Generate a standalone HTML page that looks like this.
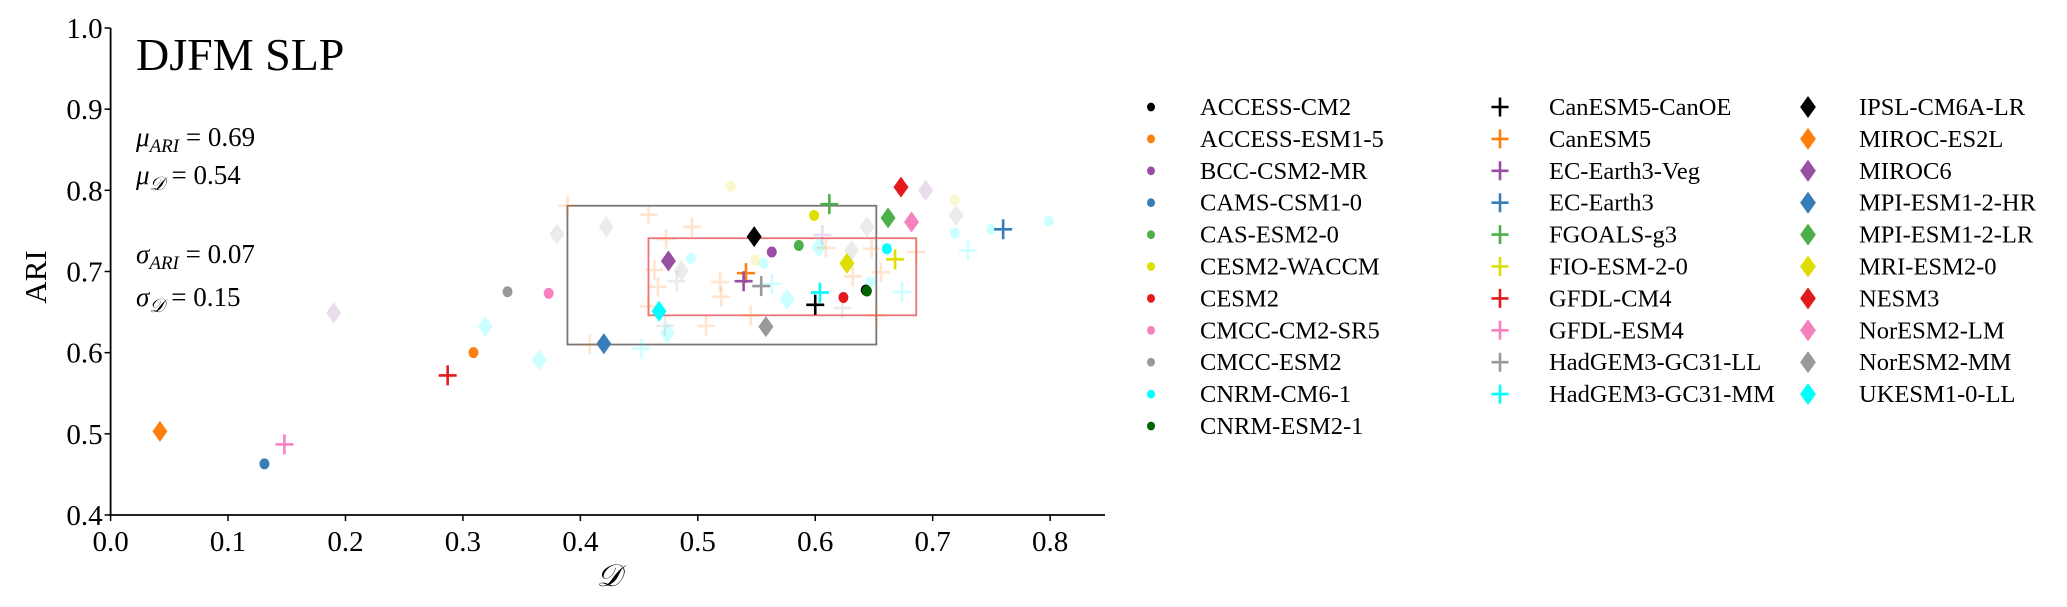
<!DOCTYPE html>
<html><head><meta charset="utf-8"><style>
html,body{margin:0;padding:0;background:#fff;}
svg{display:block;font-family:"Liberation Serif","DejaVu Serif",serif;}
</style></head><body>
<svg id="chart" width="2067" height="607" viewBox="0 0 2067 607" xmlns="http://www.w3.org/2000/svg">
<g id="plot"></g>
<g id="axes"></g>
<g id="legend"></g>
<text x="136" y="70" font-size="46">DJFM SLP</text>
<text x="136" y="146" font-size="27" font-style="italic">μ<tspan font-size="19" dy="6">ARI</tspan><tspan font-style="normal" dy="-6"> = 0.69</tspan></text>
<text x="136" y="184" font-size="27" font-style="italic">μ<tspan font-size="19" dy="6">𝒟</tspan><tspan font-style="normal" dy="-6"> = 0.54</tspan></text>
<text x="136" y="263" font-size="27" font-style="italic">σ<tspan font-size="19" dy="6">ARI</tspan><tspan font-style="normal" dy="-6"> = 0.07</tspan></text>
<text x="136" y="306" font-size="27" font-style="italic">σ<tspan font-size="19" dy="6">𝒟</tspan><tspan font-style="normal" dy="-6"> = 0.15</tspan></text>
<text x="0" y="0" font-size="31" text-anchor="middle" transform="translate(46,277) rotate(-90)">ARI</text>
<text x="609" y="586" font-size="31" font-style="italic" text-anchor="middle">𝒟</text>
</svg>
<script>
const NS='http://www.w3.org/2000/svg';
const xTicks=[0.0,0.1,0.2,0.3,0.4,0.5,0.6,0.7,0.8];
const yTicks=[0.4,0.5,0.6,0.7,0.8,0.9,1.0];
const models=['ACCESS-CM2','ACCESS-ESM1-5','BCC-CSM2-MR','CAMS-CSM1-0','CAS-ESM2-0','CESM2-WACCM','CESM2','CMCC-CM2-SR5','CMCC-ESM2','CNRM-CM6-1','CNRM-ESM2-1',
'CanESM5-CanOE','CanESM5','EC-Earth3-Veg','EC-Earth3','FGOALS-g3','FIO-ESM-2-0','GFDL-CM4','GFDL-ESM4','HadGEM3-GC31-LL','HadGEM3-GC31-MM',
'IPSL-CM6A-LR','MIROC-ES2L','MIROC6','MPI-ESM1-2-HR','MPI-ESM1-2-LR','MRI-ESM2-0','NESM3','NorESM2-LM','NorESM2-MM','UKESM1-0-LL'];
const markers=['o','o','o','o','o','o','o','o','o','o','o','+','+','+','+','+','+','+','+','+','+','d','d','d','d','d','d','d','d','d','d'];
const colors=['#000000','#ff7f0e','#984ea3','#377eb8','#4daf4a','#dede00','#e41a1c','#f781bf','#999999','#00ffff','#006400',
'#000000','#ff7f0e','#984ea3','#377eb8','#4daf4a','#dede00','#e41a1c','#f781bf','#999999','#00ffff',
'#000000','#ff7f0e','#984ea3','#377eb8','#4daf4a','#dede00','#e41a1c','#f781bf','#999999','#00ffff'];
const dVals=[0.643,0.309,0.563,0.131,0.586,0.599,0.624,0.373,0.338,0.661,0.644,
0.600,0.541,0.539,0.760,0.612,0.668,0.287,0.148,0.554,0.604,
0.548,0.042,0.475,0.420,0.662,0.627,0.673,0.682,0.558,0.467];
const ariVals=[0.677,0.600,0.724,0.463,0.732,0.769,0.668,0.673,0.675,0.728,0.676,
0.659,0.698,0.688,0.752,0.783,0.715,0.572,0.487,0.682,0.674,
0.743,0.503,0.713,0.611,0.766,0.710,0.804,0.761,0.632,0.651];
const fadeModel=[23,23,29,29,29,29,29,29,30,30,30,30,30,5,5,5,9,9,9,9,9,9,
12,12,12,12,12,12,12,12,12,12,12,12,12,12,12,12,12,12,19,19,19,13,20,20,20,20];
const fadeD=[0.694,0.190,0.380,0.422,0.486,0.644,0.631,0.720,0.319,0.365,0.474,0.576,0.603,0.528,0.719,0.549,0.494,0.719,0.750,0.799,0.647,0.556,
0.389,0.458,0.473,0.495,0.463,0.466,0.519,0.520,0.507,0.545,0.408,0.458,0.609,0.648,0.656,0.632,0.652,0.686,0.482,0.472,0.623,0.606,0.452,0.563,0.674,0.730];
const fadeA=[0.800,0.649,0.746,0.755,0.701,0.755,0.726,0.769,0.632,0.591,0.624,0.666,0.730,0.805,0.788,0.714,0.716,0.747,0.752,0.762,0.687,0.710,
0.781,0.770,0.740,0.755,0.702,0.681,0.687,0.669,0.633,0.646,0.610,0.657,0.729,0.728,0.699,0.694,0.646,0.724,0.688,0.633,0.655,0.745,0.605,0.685,0.675,0.726];
const boxNames=['all-models-box','selected-box'];
const boxD0=[0.389,0.458], boxD1=[0.652,0.686], boxA0=[0.610,0.646], boxA1=[0.781,0.741];
const boxColors=['#555555','#e8505a'];

const X0=110.6, XS=1174.4, Y0=515, YS=811.7;
const sx=v=>X0+v*XS, sy=v=>Y0-(v-0.4)*YS;
const plot=document.getElementById('plot'), axes=document.getElementById('axes'), leg=document.getElementById('legend');
function mk(tag,attrs,parent){const e=document.createElementNS(NS,tag);for(const k in attrs)e.setAttribute(k,attrs[k]);parent.appendChild(e);return e;}
function marker(type,cx,cy,color,parent,op,scale){
  const s=scale||1;
  let e;
  if(type==='o'){e=mk('ellipse',{cx:cx,cy:cy,rx:5*s,ry:5.5*s,fill:color,'fill-opacity':op},parent);}
  else if(type==='d'){e=mk('path',{d:`M${cx} ${cy-10.5*s}L${cx+7.5*s} ${cy}L${cx} ${cy+10.5*s}L${cx-7.5*s} ${cy}Z`,fill:color,'fill-opacity':op},parent);}
  else {e=mk('path',{d:`M${cx-9*s} ${cy}H${cx+9*s}M${cx} ${cy-10*s}V${cy+10*s}`,stroke:color,'stroke-width':2.6,'stroke-opacity':op,fill:'none'},parent);}
  return e;
}
for(let i=0;i<boxNames.length;i++){
  const r=mk('rect',{x:sx(boxD0[i]),y:sy(boxA1[i]),width:sx(boxD1[i])-sx(boxD0[i]),height:sy(boxA0[i])-sy(boxA1[i]),fill:'none',stroke:boxColors[i],'stroke-width':1.8,'stroke-opacity':0.8},plot);
  
  
}
for(let i=0;i<fadeD.length;i++){
  const m=fadeModel[i];
  const e=marker(markers[m],sx(fadeD[i]),sy(fadeA[i]),colors[m],plot,0.2);
  
  
}
for(let i=0;i<models.length;i++){
  const e=marker(markers[i],sx(dVals[i]),sy(ariVals[i]),colors[i],plot,1);
  
  
}
const ls=mk('line',{x1:X0,y1:sy(1.0),x2:X0,y2:Y0+1,stroke:'#000','stroke-width':1.8},axes);


const bs=mk('line',{x1:X0-1,y1:Y0,x2:1105,y2:Y0,stroke:'#000','stroke-width':1.8},axes);


xTicks.forEach(v=>{
  const t=mk('line',{x1:sx(v),y1:Y0,x2:sx(v),y2:Y0+6,stroke:'#000','stroke-width':1.5},axes);
  
  
  const l=mk('text',{x:sx(v),y:Y0+36,'font-size':29,'text-anchor':'middle'},axes);
  l.textContent=v.toFixed(1);
  
  
});
yTicks.forEach(v=>{
  const t=mk('line',{x1:X0-6,y1:sy(v),x2:X0,y2:sy(v),stroke:'#000','stroke-width':1.5},axes);
  
  
  const l=mk('text',{x:X0-8,y:sy(v)+10,'font-size':29,'text-anchor':'end'},axes);
  l.textContent=v.toFixed(1);
  
  
});
const colX=[1151,1500,1808], txtX=[1200,1549,1859];
for(let i=0;i<models.length;i++){
  const c=i<11?0:(i<21?1:2), r=i<11?i:(i<21?i-11:i-21);
  const y=107+r*31.9;
  const g=mk('g',{},leg);
  
  
  const sc=markers[i]==='o'?0.8:(markers[i]==='d'?1.05:0.95);
  marker(markers[i],colX[c],y,colors[i],g,1,sc);
  const t=mk('text',{x:txtX[c],y:y+8,'font-size':24.5},g);
  t.textContent=models[i];
}
</script>
</body></html>
